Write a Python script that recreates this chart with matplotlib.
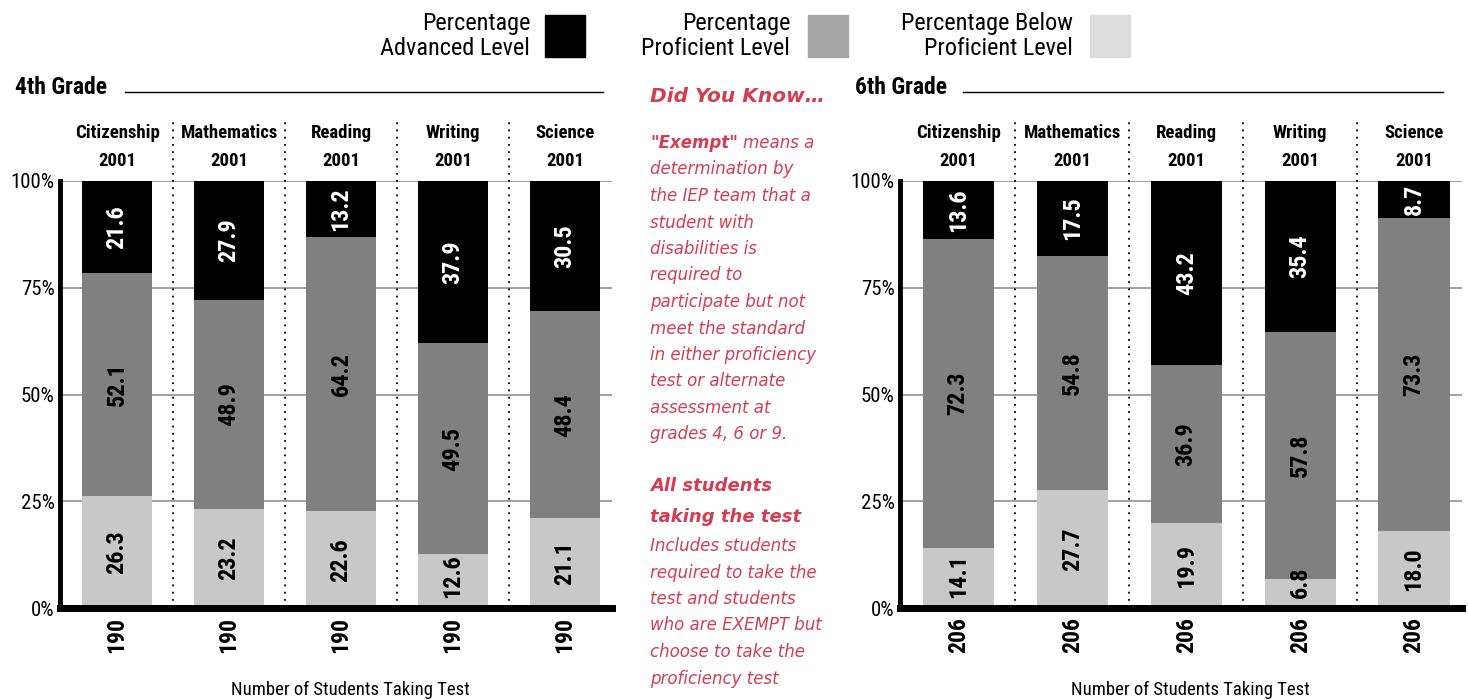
import numpy as np
import matplotlib
matplotlib.use("Agg")
import matplotlib.pyplot as plt
from matplotlib.patches import Rectangle
from matplotlib import font_manager as fm

# data
subjects = ["Citizenship", "Mathematics", "Reading", "Writing", "Science"]
year = "2001"

g4_below = [26.3, 23.2, 22.6, 12.6, 21.1]
g4_prof = [52.1, 48.9, 64.2, 49.5, 48.4]
g4_adv = [21.6, 27.9, 13.2, 37.9, 30.5]
g4_count = [190, 190, 190, 190, 190]

g6_below = [14.1, 27.7, 19.9, 6.8, 18.0]
g6_prof = [72.3, 54.8, 36.9, 57.8, 73.3]
g6_adv = [13.6, 17.5, 43.2, 35.4, 8.7]
g6_count = [206, 206, 206, 206, 206]

ytick_vals = [0, 25, 50, 75, 100]
ytick_labels = ["0%", "25%", "50%", "75%", "100%"]

c_adv = "#000000"
c_prof = "#808080"
c_below = "#c8c8c8"
red = "#d63c50"

# pick a narrow sans if one is around, else DejaVu
have = set(f.name for f in fm.fontManager.ttflist)
narrow = [f for f in ["Roboto Condensed", "Archivo Narrow", "PT Sans Narrow",
					  "Barlow Condensed", "Liberation Sans Narrow"] if f in have]
narrow = narrow[:1] + ["DejaVu Sans"]
plt.rcParams["font.family"] = narrow
note_font = ["DejaVu Sans"]

W, H = 1468, 700
fig = plt.figure(figsize=(W / 100, H / 100), dpi=100)

def px_ax(x0, x1, ytop, ybot):
	return fig.add_axes([x0 / W, 1 - ybot / H, (x1 - x0) / W, (ybot - ytop) / H])

def draw_grade(ax, below, prof, adv, counts):
	x = np.arange(len(subjects))
	w = 0.625
	ax.bar(x, below, w, color=c_below, zorder=2)
	ax.bar(x, prof, w, bottom=below, color=c_prof, zorder=2)
	ax.bar(x, adv, w, bottom=np.add(below, prof), color=c_adv, zorder=2)
	for i in range(len(x)):
		segs = [(0, below[i], "black"), (below[i], prof[i], "black"),
				(below[i] + prof[i], adv[i], "white")]
		for b, v, col in segs:
			yc, va = b + v / 2, "center"
			if b == 0 and v < 15:	# short bottom piece: sit label just above the base
				yc, va = 2.3, "bottom"
			ax.text(x[i], yc, "%.1f" % v, rotation=90, ha="center", va=va,
					fontsize=17.5, fontweight="bold", color=col, zorder=3)
		ax.text(x[i], -6.3, str(counts[i]), rotation=90, ha="center", va="center",
				fontsize=17, fontweight="bold", clip_on=False)
		ax.text(x[i], 111.2, subjects[i], ha="center", va="center", fontsize=13.5,
				fontweight="bold", clip_on=False)
		ax.text(x[i], 104.6, year, ha="center", va="center", fontsize=13.5,
				fontweight="bold", clip_on=False)
	for s in range(len(x) - 1):
		ax.plot([s + 0.5, s + 0.5], [0, 115], color="black", lw=1.3,
				linestyle=(0, (1, 3)), clip_on=False, zorder=1)
	ax.set_xlim(-0.51, 4.42)
	ax.set_ylim(0, 100)
	ax.set_yticks(ytick_vals)
	ax.set_yticklabels(ytick_labels, fontsize=15)
	ax.set_xticks([])
	ax.tick_params(axis="y", length=0, pad=4)
	for yv in ytick_vals[1:]:
		ax.axhline(yv, color="#999999", lw=1.3, zorder=0)
	ax.spines["top"].set_visible(False)
	ax.spines["right"].set_visible(False)
	ax.spines["left"].set_linewidth(3.5)
	ax.spines["bottom"].set_linewidth(5)

ax1 = px_ax(60, 612, 181, 608)
draw_grade(ax1, g4_below, g4_prof, g4_adv, g4_count)
ax2 = px_ax(900, 1462, 181, 608)
draw_grade(ax2, g6_below, g6_prof, g6_adv, g6_count)

# grade headings
fig.text(15 / W, 1 - 88 / H, "4th Grade", fontsize=17, fontweight="bold", va="center")
fig.add_artist(plt.Line2D([125 / W, 603 / W], [1 - 92 / H, 1 - 92 / H], color="black", lw=1))
fig.text(855 / W, 1 - 88 / H, "6th Grade", fontsize=17, fontweight="bold", va="center")
fig.add_artist(plt.Line2D([963 / W, 1443 / W], [1 - 92 / H, 1 - 92 / H], color="black", lw=1))

# legend
leg = [("Percentage\nAdvanced Level", 530, 545, "#000000"),
	   ("Percentage\nProficient Level", 790, 808, "#a6a6a6"),
	   ("Percentage Below\nProficient Level", 1073, 1090, "#dcdcdc")]
for txt, tx, bx, col in leg:
	fig.text(tx / W, 1 - 36 / H, txt, ha="right", va="center", fontsize=17.5,
			 linespacing=1.1)
	fig.add_artist(Rectangle((bx / W, 1 - 57 / H), 40 / W, 42 / H, color=col,
							 transform=fig.transFigure))

# side note
fig.text(650 / W, 1 - 97 / H, "Did You Know\u2026", fontsize=14.5, fontweight="bold",
		 style="italic", color=red, va="center", family=note_font)
note1 = ["means a", "determination by", "the IEP team that a", "student with",
		 "disabilities is", "required to", "participate but not", "meet the standard",
		 "in either proficiency", "test or alternate", "assessment at",
		 "grades 4, 6 or 9."]
ex = fig.text(650 / W, 1 - 143 / H, "\"Exempt\"", fontsize=12, fontweight="bold",
			  style="italic", color=red, va="center", family=note_font)
fig.canvas.draw()
ex_right = ex.get_window_extent().x1 + 5
for k, line in enumerate(note1):
	xx = ex_right / W if k == 0 else 650 / W
	fig.text(xx, 1 - (143 + 26.5 * k) / H, line, fontsize=12, style="italic",
			 color=red, va="center", family=note_font)
fig.text(650 / W, 1 - 486 / H, "All students", fontsize=13, fontweight="bold",
		 style="italic", color=red, va="center", family=note_font)
fig.text(650 / W, 1 - 517 / H, "taking the test", fontsize=13, fontweight="bold",
		 style="italic", color=red, va="center", family=note_font)
note2 = ["Includes students", "required to take the", "test and students",
		 "who are EXEMPT but", "choose to take the", "proficiency test"]
for k, line in enumerate(note2):
	fig.text(650 / W, 1 - (546 + 26.5 * k) / H, line, fontsize=12, style="italic",
			 color=red, va="center", family=note_font)

fig.text(350 / W, 1 - 690 / H, "Number of Students Taking Test", ha="center",
		 va="center", fontsize=13.5)
fig.text(1190 / W, 1 - 690 / H, "Number of Students Taking Test", ha="center",
		 va="center", fontsize=13.5)

fig.savefig("out.png", dpi=100)
